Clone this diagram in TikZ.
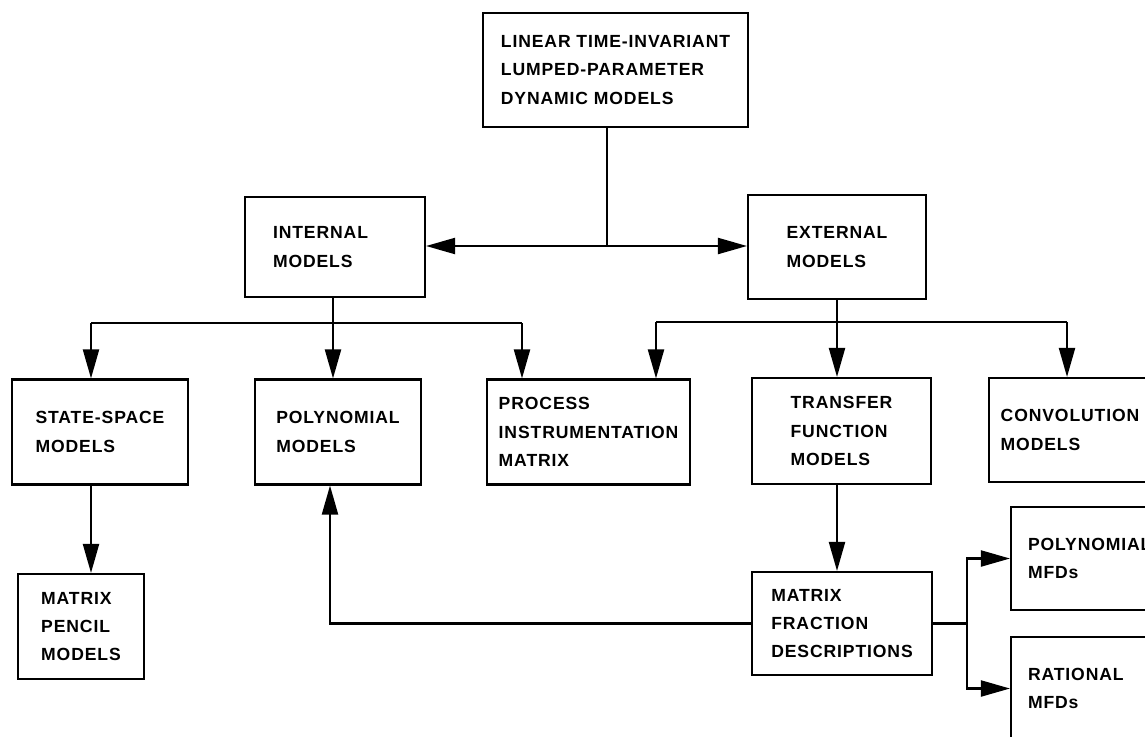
\documentclass[tikz,border=0pt]{standalone}
\usepackage{fontspec}
\newfontfamily\plotfont{Liberation Sans}[LetterSpace=5]
\usetikzlibrary{arrows.meta}

\begin{document}
\begin{tikzpicture}[scale=2.0, line width=1.2pt,
		modelbox/.style={draw, align=left, inner sep=2pt, font=\plotfont\bfseries\fontsize{10}{16.2}\selectfont},
		cutbox/.style={modelbox, text width=2.6cm, inner xsep=0.34cm},
		flow/.style={-{Triangle[length=0.58cm, width=0.32cm]}}]
	\useasboundingbox (0.0, 0.0) rectangle (11.45, -7.36);
	\clip (0.0, 0.0) rectangle (11.45, -7.36);
	% boxes
	\node[modelbox, minimum width=5.3cm, minimum height=2.28cm] (top) at (6.155, -0.70) {LINEAR TIME-INVARIANT\\LUMPED-PARAMETER\\DYNAMIC MODELS};
	\node[modelbox, minimum width=3.6cm, minimum height=2.0cm, text width=2.48cm] (internal) at (3.35, -2.47) {INTERNAL\\MODELS};
	\node[modelbox, minimum width=3.56cm, minimum height=2.08cm] (external) at (8.37, -2.47) {EXTERNAL\\MODELS};
	\node[modelbox, minimum width=3.52cm, minimum height=2.1cm] (state) at (1.00, -4.32) {STATE-SPACE\\MODELS};
	\node[modelbox, minimum width=3.32cm, minimum height=2.1cm] (poly) at (3.38, -4.32) {POLYNOMIAL\\MODELS};
	\node[modelbox, minimum width=4.06cm, minimum height=2.1cm] (process) at (5.885, -4.32) {PROCESS\\INSTRUMENTATION\\MATRIX};
	\node[modelbox, minimum width=3.58cm, minimum height=2.12cm] (transfer) at (8.415, -4.31) {TRANSFER\\FUNCTION\\MODELS};
	\node[modelbox, minimum width=3.24cm, minimum height=2.08cm] (conv) at (10.70, -4.30) {CONVOLUTION\\MODELS};
	\node[modelbox, minimum width=2.52cm, minimum height=2.1cm] (pencil) at (0.81, -6.265) {MATRIX\\PENCIL\\MODELS};
	\node[modelbox, minimum width=3.6cm, minimum height=2.06cm] (mfd) at (8.42, -6.235) {MATRIX\\FRACTION\\DESCRIPTIONS};
	\node[cutbox, minimum height=2.06cm] (pmfd) at (10.93, -5.585) {POLYNOMIAL\\MFDs};
	\node[cutbox, minimum height=2.06cm] (rmfd) at (10.93, -6.885) {RATIONAL\\MFDs};
	% branch points
	\coordinate (fork) at (6.07, -2.46);
	\coordinate (ibus) at (3.33, -3.23);
	\coordinate (ileft) at (0.91, -3.23);
	\coordinate (iright) at (5.22, -3.23);
	\coordinate (ebus) at (8.37, -3.22);
	\coordinate (eleft) at (6.56, -3.22);
	\coordinate (eright) at (10.67, -3.22);
	\coordinate (back) at (3.30, -6.235);
	\coordinate (split) at (9.67, -6.235);
	% connectors
	\draw (top.south -| fork) -- (fork);
	\draw[flow] (fork) -- (internal.east |- fork);
	\draw[flow] (fork) -- (external.west |- fork);
	\draw (internal.south -| ibus) -- (ibus);
	\draw (ileft) -- (iright);
	\draw[flow] (ileft) -- (ileft |- state.north);
	\draw[flow] (ibus) -- (ibus |- poly.north);
	\draw[flow] (iright) -- (iright |- process.north);
	\draw (external.south) -- (ebus);
	\draw (eleft) -- (eright);
	\draw[flow] (eleft) -- (eleft |- process.north);
	\draw[flow] (ebus) -- (ebus |- transfer.north);
	\draw[flow] (eright) -- (eright |- conv.north);
	\draw[flow] (ileft |- state.south) -- (ileft |- pencil.north);
	\draw[flow] (ebus |- transfer.south) -- (ebus |- mfd.north);
	\draw[flow] (mfd.west) -- (back) -- (back |- poly.south);
	\draw (mfd.east) -- (split);
	\draw[flow] (split) |- (pmfd.west);
	\draw[flow] (split) |- (rmfd.west);
\end{tikzpicture}
\end{document}
